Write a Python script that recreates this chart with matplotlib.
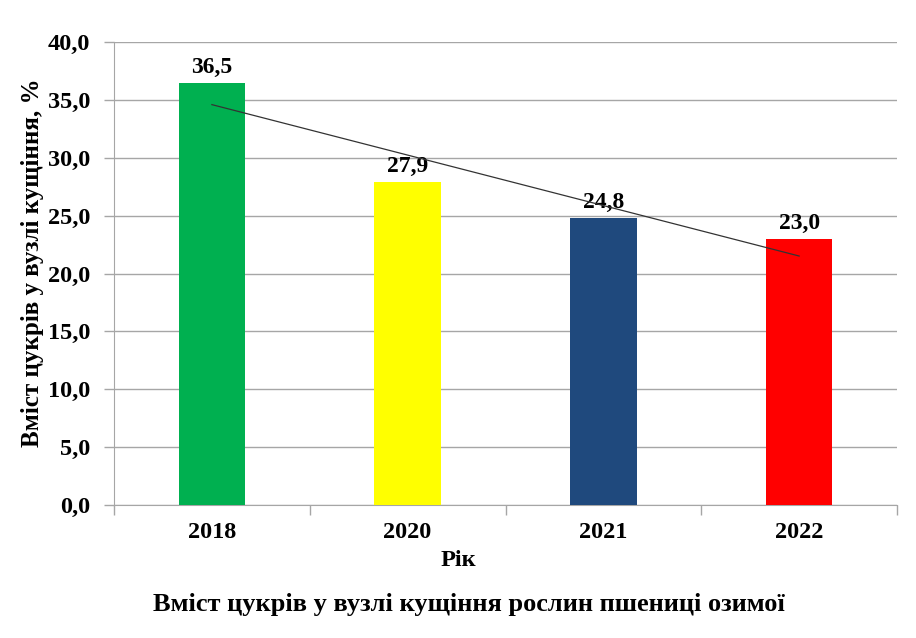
import matplotlib.pyplot as plt
import numpy as np

years = ['2018', '2020', '2021', '2022']
sugar = [36.5, 27.9, 24.8, 23.0]
colors = ['#00b050', '#ffff00', '#1f497d', '#ff0000']

plt.rcParams['font.family'] = ['Liberation Serif', 'DejaVu Serif']
plt.rcParams['font.weight'] = 'bold'

fig = plt.figure(figsize=(9.16, 6.38), dpi=100)
ax = fig.add_axes([114 / 916, 1 - 505 / 638, (897 - 114) / 916, (505 - 42) / 638])

x = np.arange(len(years))
ax.bar(x, sugar, width=0.34, color=colors, zorder=3)

# linear trend line across the bars
k, b = np.polyfit(x, sugar, 1)
ax.plot(x, k * x + b, color='#333333', lw=0.9, zorder=4)

for xi, v in zip(x, sugar):
    ax.text(xi, v + 0.4, f'{v:.1f}'.replace('.', ','), ha='center', va='bottom',
            fontsize=17, fontweight='bold')

ax.set_xlim(-0.5, 3.5)
ax.set_ylim(0, 40)
ax.set_yticks(np.arange(0, 40.1, 5))
ax.set_yticklabels([f'{t:.1f}'.replace('.', ',') for t in np.arange(0, 40.1, 5)])
ax.set_xticks(x)
ax.set_xticklabels(years)
ax.set_xticks(np.arange(-0.5, 3.6, 1), minor=True)
ax.tick_params(axis='x', which='major', length=0, pad=12, labelsize=17.5)
ax.tick_params(axis='x', which='minor', length=7, color='#a6a6a6', width=1)
ax.tick_params(axis='y', length=7, color='#a6a6a6', width=1, pad=10, labelsize=17.5)

ax.grid(axis='y', color='#a6a6a6', lw=1, zorder=0)
for s in ['top', 'right']:
    ax.spines[s].set_visible(False)
for s in ['left', 'bottom']:
    ax.spines[s].set_color('#a6a6a6')

fig.text(33 / 916, 1 - 263 / 638, 'Вміст цукрів у вузлі кущіння, %', rotation=90,
         ha='center', va='center', fontsize=18, fontweight='bold')
fig.text(458 / 916, 1 - 560 / 638, 'Рік', ha='center', va='center',
         fontsize=17.5, fontweight='bold')
fig.text(469 / 916, 1 - 605 / 638, 'Вміст цукрів у вузлі кущіння рослин пшениці озимої',
         ha='center', va='center', fontsize=19, fontweight='bold')

fig.savefig('out.png', dpi=100)
